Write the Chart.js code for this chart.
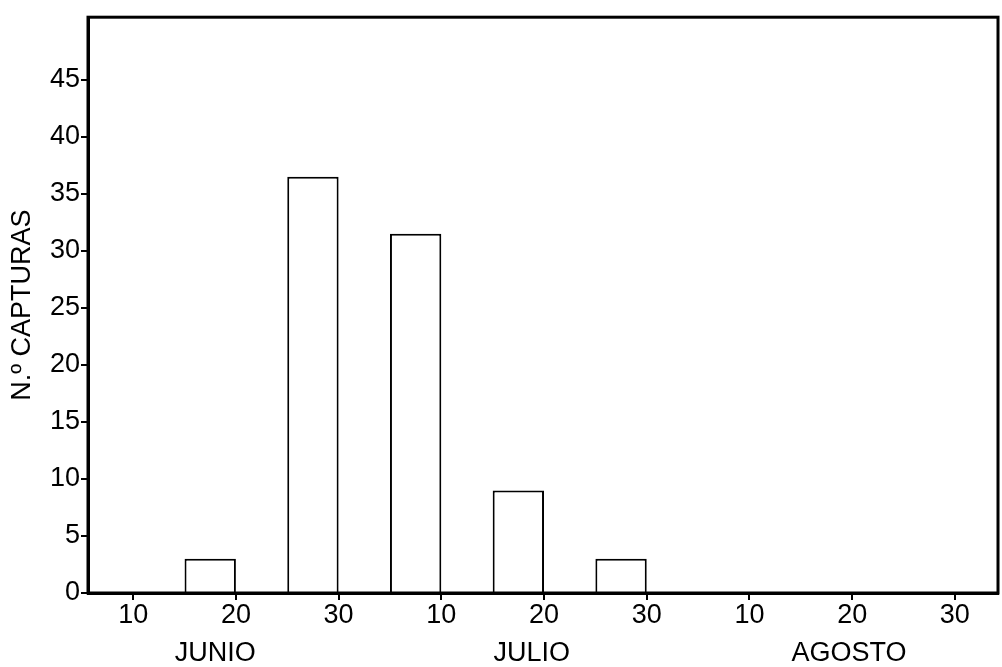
<!DOCTYPE html>
<html>
<head>
<meta charset="utf-8">
<script src="https://cdn.jsdelivr.net/npm/chart.js@4"></script>
<style>
  body { margin: 0; background: #fff; }
  canvas { display: block; }
</style>
</head>
<body>
<canvas id="chart1" width="1002" height="667"></canvas>
<script>
// datos (periodos de 5 dias, posicion en decenas)
const tickLabels = ['10', '20', '30', '10', '20', '30', '10', '20', '30'];
const months = ['JUNIO', 'JULIO', 'AGOSTO'];
const barPos = [1.75, 2.75, 3.75, 4.75, 5.75];
const capturas = [3, 36.5, 31.5, 9, 3];
const monthPos = [1.8, 4.88, 7.97];

const FONT = { family: '"Liberation Sans", Arial, sans-serif', size: 27 };

// caja alrededor del area del grafico
const boxPlugin = {
  id: 'box',
  afterDraw(chart) {
    const a = chart.chartArea;
    const ctx = chart.ctx;
    ctx.save();
    ctx.strokeStyle = '#000';
    ctx.lineWidth = 3;
    ctx.strokeRect(a.left, a.top, a.right - a.left, a.bottom - a.top);
    ctx.restore();
  }
};

new Chart(document.getElementById('chart1'), {
  type: 'bar',
  data: {
    datasets: [{
      data: barPos.map((x, i) => ({ x: x, y: capturas[i] })),
      backgroundColor: '#fff',
      borderColor: '#000',
      borderWidth: 2,
      categoryPercentage: 0.5,
      barPercentage: 1
    }]
  },
  options: {
    responsive: false,
    animation: false,
    layout: { padding: { top: 6, right: 4, left: 0, bottom: 0 } },
    plugins: { legend: { display: false }, tooltip: { enabled: false } },
    scales: {
      x: {
        type: 'linear',
        offset: false,
        min: 0.56,
        max: 9.42,
        weight: 0,
        afterBuildTicks: s => { s.ticks = tickLabels.map((t, i) => ({ value: i + 1 })); },
        afterFit: s => { s.height = 38; },
        ticks: {
          color: '#000',
          font: FONT,
          padding: -1,
          maxRotation: 0,
          autoSkip: false,
          callback: (v, i) => tickLabels[i]
        },
        grid: { offset: false, drawOnChartArea: false, drawTicks: true, tickLength: 7, tickColor: '#000', lineWidth: 2 },
        border: { color: '#000', width: 3 }
      },
      x2: {
        type: 'linear',
        position: 'bottom',
        offset: false,
        min: 0.56,
        max: 9.42,
        weight: 1,
        afterBuildTicks: s => { s.ticks = monthPos.map(v => ({ value: v })); },
        afterFit: s => { s.height = 36; },
        ticks: {
          color: '#000',
          font: FONT,
          padding: -2,
          maxRotation: 0,
          autoSkip: false,
          callback: (v, i) => months[i]
        },
        grid: { display: false, offset: false },
        border: { display: false }
      },
      y: {
        min: 0,
        max: 50.5,
        afterBuildTicks: s => {
          s.ticks = [0, 5, 10, 15, 20, 25, 30, 35, 40, 45].map(v => ({ value: v }));
        },
        afterFit: s => { s.width = 88; },
        ticks: { color: '#000', font: FONT, padding: 1 },
        grid: { drawOnChartArea: false, drawTicks: true, tickLength: 7, tickColor: '#000', lineWidth: 2 },
        border: { color: '#000', width: 3 },
        title: {
          display: true,
          text: 'N.º CAPTURAS',
          color: '#000',
          font: FONT,
          padding: { top: 6, bottom: 4 }
        }
      }
    }
  },
  plugins: [boxPlugin]
});
</script>
</body>
</html>
